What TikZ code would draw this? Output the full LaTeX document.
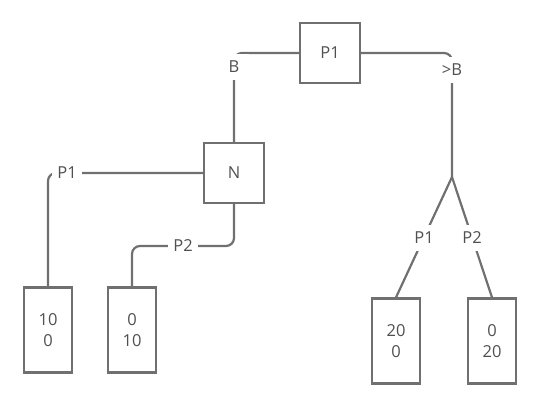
\documentclass[tikz,border=0pt]{standalone}
\usepackage{fontspec}
\setmainfont{Open Sans}
\usepackage{tikz}
\usetikzlibrary{positioning}
\definecolor{linegray}{HTML}{707070}
\definecolor{labelgray}{HTML}{505050}

\begin{document}
\begin{tikzpicture}[
  x=1pt, y=-1pt,
  font=\fontsize{16.5}{21}\selectfont,
  text=labelgray,
  player/.style={draw=linegray, line width=2.2pt, minimum width=60pt, minimum height=60pt},
  leaf/.style={draw=linegray, line width=2.2pt, minimum width=48pt, minimum height=85pt, align=center},
  move/.style={fill=white, inner sep=0pt, minimum width=30pt, minimum height=26pt},
  link/.style={draw=linegray, line width=2.2pt, rounded corners=8pt}
]
\useasboundingbox (0,0) rectangle (540,408);

% decision nodes
\node[player] (root) at (330,53) {P1};
\node[player] (nature) at (234,173) {N};
\coordinate (fork) at (452,177);
\coordinate (p2turn) at (234,246);

% payoffs
\node[leaf] (payA) at (48,330) {10\\0};
\node[leaf] (payB) at (132,330) {0\\10};
\node[leaf] (payC) at (396,341) {20\\0};
\node[leaf] (payD) at (492,341) {0\\20};

% branches
\draw[link] (root.west) -| (nature.north);
\draw[link] (root.east) -| (fork);
\draw[link] (nature.west) -| (payA.north);
\draw[link] (nature.south) -- (p2turn) -| (payB.north);
\draw[link] (fork) -- (payC.north);
\draw[link] (fork) -- (payD.north);

% move labels
\node[move] (mvB) at (234,67) {B};
\node[move] (mvGtB) at (452,70) {>B};
\node[move] (mvNP1) at (67,173) {P1};
\node[move] (mvNP2) at (183,246) {P2};
\node[move] (mvRP1) at (424,238) {P1};
\node[move] (mvRP2) at (472,238) {P2};
\end{tikzpicture}
\end{document}
